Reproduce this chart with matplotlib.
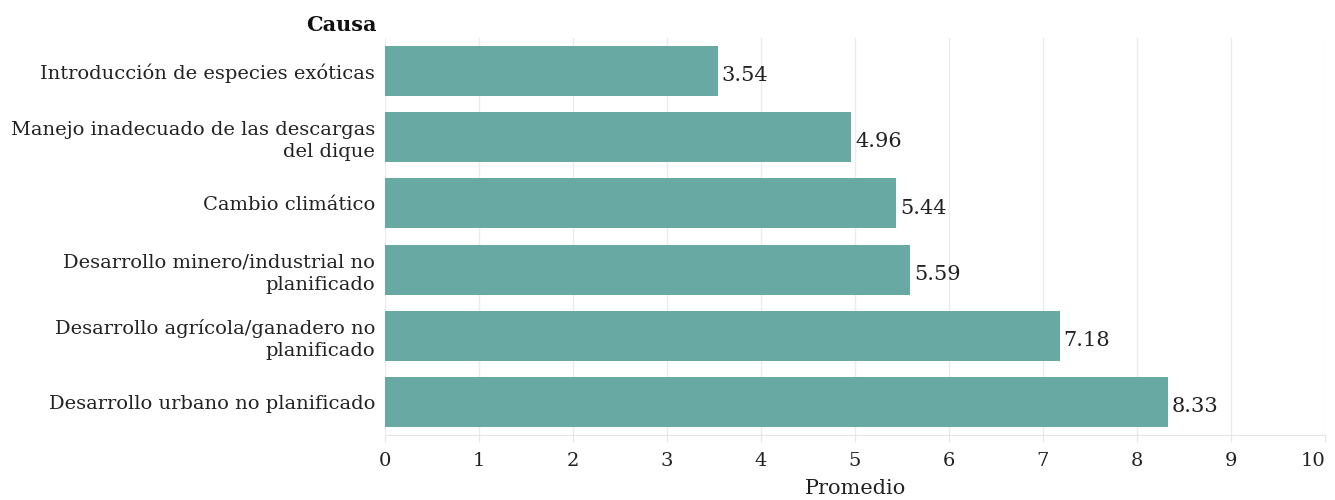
import matplotlib.pyplot as plt

causas = [
    "Introducción de especies exóticas",
    "Manejo inadecuado de las descargas\ndel dique",
    "Cambio climático",
    "Desarrollo minero/industrial no\nplanificado",
    "Desarrollo agrícola/ganadero no\nplanificado",
    "Desarrollo urbano no planificado",
]
promedio = [3.54, 4.96, 5.44, 5.59, 7.18, 8.33]
xticks = list(range(0, 11))

plt.rcParams['font.family'] = ['DejaVu Serif']

fig = plt.figure(figsize=(13.35, 5.0), dpi=100)
ax = fig.add_axes([385 / 1335, 65 / 500, 940 / 1335, 397 / 500])

ypos = list(range(len(causas)))
ax.barh(ypos, promedio, height=0.755, color='#69a9a3', zorder=2)
for y, v in zip(ypos, promedio):
    ax.text(v + 0.04, y + 0.07, f"{v:.2f}", va='center', ha='left', fontsize=15, color='#222222')

ax.set_ylim(len(causas) - 0.5, -0.5)
ax.set_xlim(0, 10)
ax.set_yticks(ypos)
ax.set_yticklabels(causas, fontsize=14, color='#222222', linespacing=1.3)
ax.set_xticks(xticks)
ax.set_xticklabels([str(t) for t in xticks], fontsize=14, color='#222222')
# keep the last tick label inside the figure edge
ax.get_xticklabels()[-1].set_horizontalalignment('right')
ax.tick_params(axis='y', length=0, pad=7)
ax.tick_params(axis='x', length=5, color='#e6e6e6', pad=7)
ax.grid(axis='x', color='#ebebeb', linewidth=1.0, zorder=0)
for s in ['top', 'right', 'left']:
    ax.spines[s].set_visible(False)
ax.spines['bottom'].set_color('#e6e6e6')
ax.set_xlabel("Promedio", fontsize=15, color='#222222', labelpad=7)

fig.text(377 / 1335, 1 - 25 / 500, "Causa", ha='right', va='center',
         fontsize=15, fontweight='bold', color='#111111')

fig.savefig("out.png", dpi=100)
